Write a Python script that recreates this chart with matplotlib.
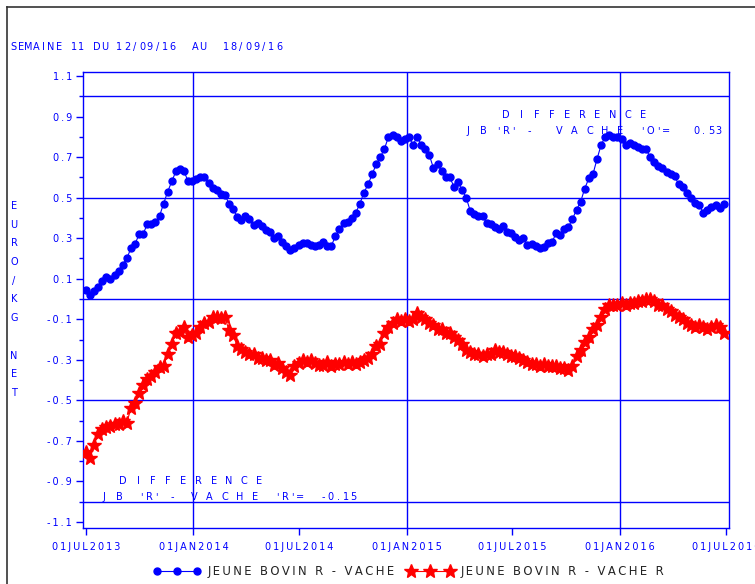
#-------------------------- Librerias ------------------------------------------
import numpy as np
import matplotlib
matplotlib.use('Agg')
import matplotlib.pyplot as plt
import matplotlib.dates as mdates
from matplotlib.lines import Line2D
from matplotlib.ticker import FixedLocator, FixedFormatter
#------------------------------------------------------------------------------

#-------------------------- Datos (semanal desde 01JUL2013) -------------------
inicio = '2013-07-01'
jb_vache = [0.045, 0.02, 0.04, 0.06, 0.09, 0.11, 0.10, 0.12, 0.14, 0.17,
            0.20, 0.25, 0.27, 0.32, 0.32, 0.37, 0.37, 0.38, 0.41, 0.47,
            0.53, 0.58, 0.63, 0.64, 0.63, 0.58, 0.58, 0.59, 0.60, 0.60,
            0.57, 0.55, 0.54, 0.52, 0.515, 0.47, 0.445, 0.405, 0.39, 0.41,
            0.395, 0.365, 0.375, 0.36, 0.34, 0.33, 0.30, 0.31, 0.28, 0.26,
            0.24, 0.25, 0.265, 0.275, 0.275, 0.265, 0.26, 0.265, 0.28, 0.26,
            0.26, 0.31, 0.345, 0.375, 0.38, 0.40, 0.425, 0.47, 0.525, 0.565,
            0.615, 0.665, 0.70, 0.74, 0.80, 0.81, 0.80, 0.78, 0.79, 0.80,
            0.76, 0.80, 0.76, 0.74, 0.71, 0.645, 0.665, 0.63, 0.60, 0.60,
            0.555, 0.575, 0.54, 0.50, 0.435, 0.42, 0.41, 0.41, 0.375, 0.37,
            0.355, 0.345, 0.36, 0.33, 0.325, 0.305, 0.29, 0.30, 0.265, 0.27,
            0.26, 0.25, 0.255, 0.275, 0.28, 0.325, 0.315, 0.345, 0.355, 0.395,
            0.44, 0.48, 0.545, 0.595, 0.615, 0.69, 0.76, 0.80, 0.81, 0.80,
            0.80, 0.79, 0.76, 0.77, 0.76, 0.75, 0.74, 0.74, 0.70, 0.675,
            0.655, 0.645, 0.625, 0.615, 0.605, 0.565, 0.555, 0.525, 0.50, 0.475,
            0.465, 0.425, 0.44, 0.455, 0.465, 0.45, 0.47]
jb_vache_r = [-0.757, -0.787, -0.72, -0.665, -0.64, -0.63, -0.625, -0.615, -0.615, -0.60,
              -0.61, -0.54, -0.515, -0.465, -0.425, -0.395, -0.38, -0.36, -0.335, -0.33,
              -0.27, -0.22, -0.17, -0.165, -0.14, -0.19, -0.18, -0.17, -0.14, -0.12,
              -0.115, -0.09, -0.09, -0.095, -0.09, -0.155, -0.18, -0.23, -0.245, -0.26,
              -0.27, -0.27, -0.29, -0.29, -0.30, -0.30, -0.325, -0.315, -0.34, -0.36,
              -0.375, -0.33, -0.315, -0.30, -0.31, -0.30, -0.315, -0.325, -0.325, -0.31,
              -0.33, -0.32, -0.32, -0.31, -0.32, -0.31, -0.32, -0.31, -0.30, -0.29,
              -0.27, -0.23, -0.22, -0.17, -0.14, -0.12, -0.10, -0.11, -0.10, -0.11,
              -0.10, -0.07, -0.09, -0.10, -0.12, -0.13, -0.15, -0.15, -0.17, -0.17,
              -0.19, -0.20, -0.22, -0.25, -0.26, -0.27, -0.27, -0.28, -0.27, -0.27,
              -0.25, -0.26, -0.26, -0.27, -0.28, -0.28, -0.29, -0.30, -0.31, -0.32,
              -0.32, -0.33, -0.32, -0.33, -0.33, -0.33, -0.34, -0.34, -0.35, -0.33,
              -0.28, -0.25, -0.21, -0.19, -0.15, -0.13, -0.09, -0.05, -0.03, -0.03,
              -0.03, -0.02, -0.03, -0.02, -0.02, -0.01, -0.01, 0.00, 0.00, -0.01,
              -0.03, -0.03, -0.05, -0.06, -0.08, -0.09, -0.10, -0.12, -0.13, -0.14,
              -0.13, -0.14, -0.15, -0.14, -0.13, -0.14, -0.17]
fechas_ticks = ['2013-07-01', '2014-01-01', '2014-07-01', '2015-01-01',
                '2015-07-01', '2016-01-01', '2016-07-01']
etiquetas_x = ['01JUL2013', '01JAN2014', '01JUL2014', '01JAN2015',
               '01JUL2015', '01JAN2016', '01JUL2016']
etiquetas_y = [1.1, 0.9, 0.7, 0.5, 0.3, 0.1, -0.1, -0.3, -0.5, -0.7, -0.9, -1.1]
lineas_y = [1.0, 0.5, 0.0, -0.5, -1.0]
lineas_x = ['2014-01-01', '2015-01-01', '2016-01-01']
diff_o = 0.53
diff_r = -0.15
#------------------------------------------------------------------------------

W, H = 755, 584
AZUL = '#0000ff'
fig = plt.figure(figsize=(W/100, H/100), dpi=100)
ax = fig.add_axes([83/W, 1-528/H, (729-83)/W, (528-72)/H])

def px(x, y):
    return x/W, 1-y/H

def texto_sas(x, y, s, paso, color=AZUL, size=7):
    # texto con espaciado fijo por caracter (estilo SAS/GRAPH)
    for i, ch in enumerate(s):
        if ch != ' ':
            fig.text(*px(x+i*paso, y), ch, ha='center', va='center',
                     color=color, fontsize=size)

#------------------------------ Grafica ---------------------------------------
fechas = np.datetime64(inicio) + np.arange(len(jb_vache))*np.timedelta64(7, 'D')
fechas = fechas.astype('datetime64[D]').astype(object)

for v in lineas_y:
    ax.axhline(v, color=AZUL, lw=1, zorder=1)
for f in lineas_x:
    ax.axvline(np.datetime64(f).astype(object), color=AZUL, lw=1, zorder=1)

ax.plot(fechas, jb_vache, color=AZUL, lw=0.8, marker='o', ms=5,
        mec=AZUL, mfc=AZUL, zorder=3, label='JEUNE BOVIN R - VACHE')
ax.plot(fechas, jb_vache_r, color='red', lw=0.8, marker='*', ms=10,
        mec='red', mfc='red', zorder=3, label='JEUNE BOVIN R - VACHE R')

ax.set_xlim(np.datetime64('2013-06-26').astype(object),
            np.datetime64('2016-07-06').astype(object))
ax.set_ylim(-1.13, 1.12)

ts = '\u2009'
ax.xaxis.set_major_locator(FixedLocator([mdates.date2num(np.datetime64(f).astype(object)) for f in fechas_ticks]))
ax.xaxis.set_major_formatter(FixedFormatter([ts.join(e) for e in etiquetas_x]))
ax.yaxis.set_major_locator(FixedLocator(etiquetas_y))
ax.yaxis.set_major_formatter(FixedFormatter([ts.join(f'{v:.1f}') for v in etiquetas_y]))
ax.yaxis.set_minor_locator(FixedLocator([1.0, 0.8, 0.6, 0.4, 0.2, 0.0, -0.2, -0.4, -0.6, -0.8, -1.0]))

for s in ax.spines.values():
    s.set_color(AZUL)
    s.set_linewidth(1)
ax.tick_params(axis='both', which='major', colors=AZUL, labelcolor=AZUL,
               labelsize=7, length=5, width=1, direction='out')
ax.tick_params(axis='y', which='minor', colors=AZUL, length=3, width=1, direction='out')
ax.tick_params(axis='y', pad=3)
ax.tick_params(axis='x', pad=5)
#------------------------------------------------------------------------------

#------------------------------ Textos ----------------------------------------
texto_sas(13, 47, 'SEMAINE 11 DU 12/09/16  AU  18/09/16', 7.6)
texto_sas(506, 115, 'D I F F E R E N C E', 7.6)
texto_sas(468, 131, "J B 'R' -   V A C H E  'O'=   " + f'{diff_o:.2f}', 7.6)
texto_sas(123, 481, 'D I F F E R E N C E', 7.55)
texto_sas(104, 497, "J B  'R' -  V A C H E  'R'=  " + f'{diff_r:.2f}', 7.55)

for i, ch in enumerate('EURO/KG NET'):
    if ch != ' ':
        fig.text(*px(14, 206+i*18.7), ch, ha='center', va='center',
                 color=AZUL, fontsize=7)

# marco de la figura
fig.add_artist(Line2D([7/W, 7/W], [0, 1-7/H], color='#333333', lw=1.2))
fig.add_artist(Line2D([7/W, 1], [1-7/H, 1-7/H], color='#333333', lw=1.2))

leg = fig.legend(loc='center', bbox_to_anchor=px(409, 572), ncol=2, numpoints=3,
                 frameon=False, handlelength=4.0, handletextpad=0.6,
                 columnspacing=1.1, fontsize=8.4)
for t in leg.get_texts():
    t.set_text(ts.join(t.get_text()))
    t.set_color('#222222')
#------------------------------------------------------------------------------

fig.savefig('out.png', dpi=100)
